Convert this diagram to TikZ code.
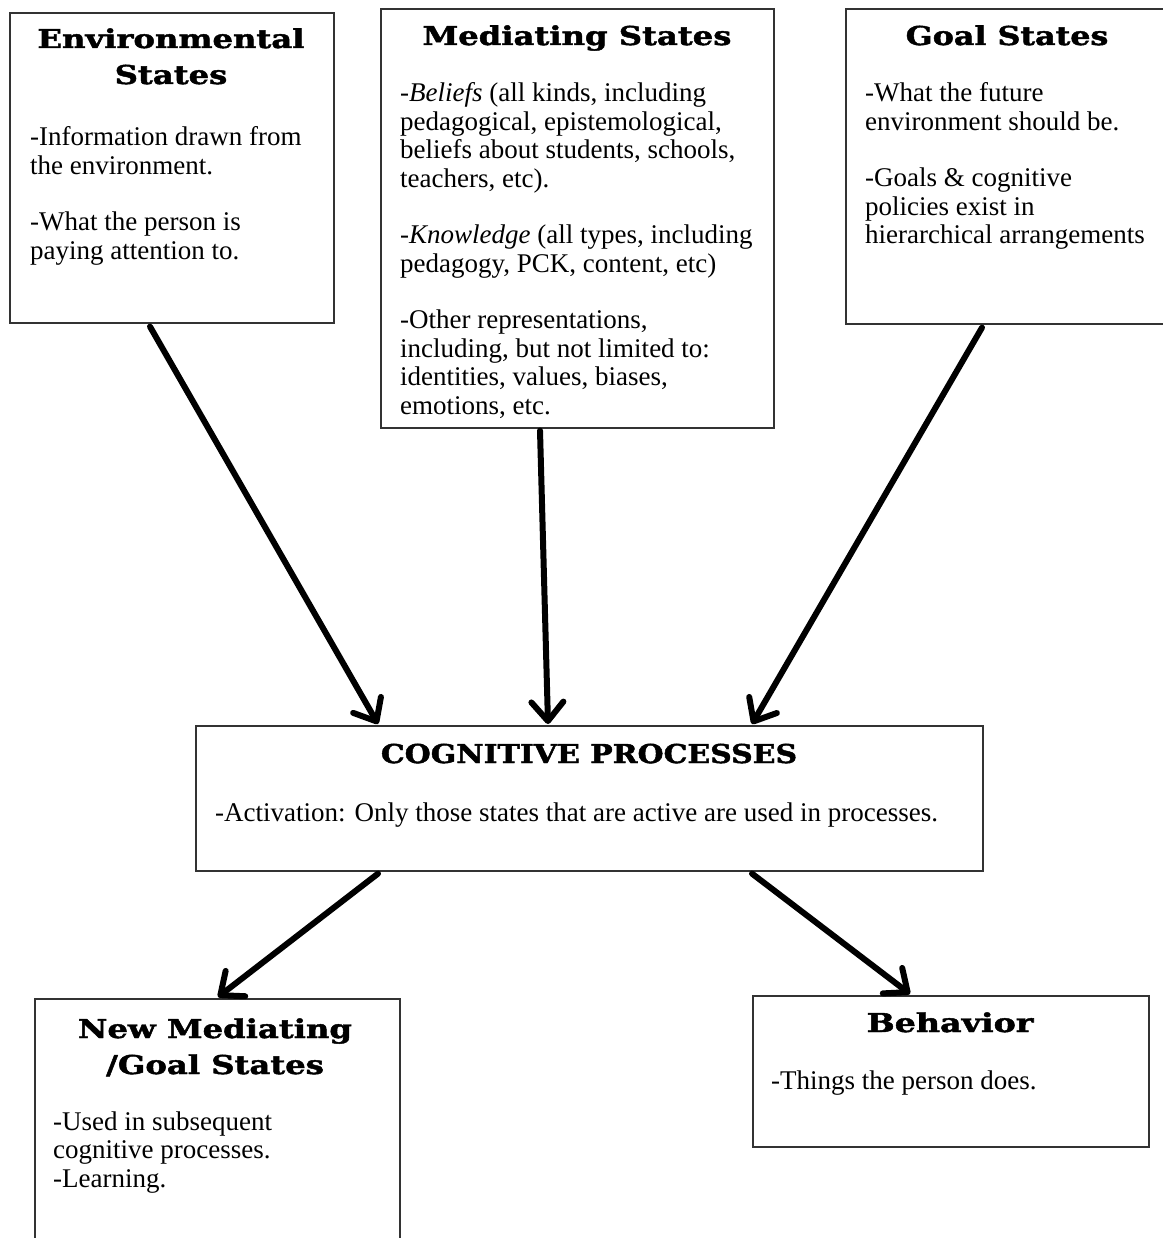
\documentclass[tikz,border=0pt]{standalone}
\usepackage{fontspec}
\setmainfont{Liberation Serif}
\newfontfamily\headfont[FakeBold=1.6]{DejaVu Serif Bold}
\usetikzlibrary{arrows.meta}
\newcommand\hd[2][1.24]{\scalebox{#1}[1]{#2}}
\begin{document}
\begin{tikzpicture}[x=1pt,y=-1pt,
  panel/.style={draw=black!80, line width=1.6pt, anchor=north west, inner sep=0pt},
  head/.style={font=\headfont\fontsize{26}{36}\selectfont, align=center, anchor=base, inner sep=0pt},
  body/.style={font=\fontsize{27}{28.5}\selectfont, align=left, anchor=base west, inner sep=0pt},
  flow/.style={line width=6pt, line cap=round, -{Straight Barb[round,length=19pt,width=32pt]}}]
\useasboundingbox (0,0) rectangle (1162,1238);

% boxes
\node[panel, minimum width=324pt, minimum height=310pt] (env) at (9,12) {};
\node[panel, minimum width=393pt, minimum height=419pt] (med) at (380,8) {};
\node[panel, minimum width=320pt, minimum height=315pt] (goal) at (845,8) {};
\node[panel, minimum width=787pt, minimum height=145pt] (cog) at (195,725) {};
\node[panel, minimum width=365pt, minimum height=260pt] (newm) at (34,998) {};
\node[panel, minimum width=396pt, minimum height=151pt] (beh) at (752,995) {};

% headings (anchored on the baseline of their last line)
\node[head] (envT) at (171,84) {\hd{Environmental}\\\hd{States}};
\node[head] (medT) at (577,45) {\hd{Mediating States}};
\node[head] (goalT) at (1007,45) {\hd[1.22]{Goal States}};
\node[head] (cogT) at (589,763) {\hd[1.15]{COGNITIVE PROCESSES}};
\node[head] (newmT) at (215,1074) {\hd{New Mediating}\\\hd{/Goal States}};
\node[head] (behT) at (950,1032) {\hd[1.28]{Behavior}};

% texts (anchored on the baseline of their last line)
\node[body, font=\fontsize{27}{29}\selectfont] (envB) at (30,260) {-Information drawn from\\the environment.\\[27pt]-What the person is\\paying attention to.};
\node[body] (medB) at (400,414) {-\textit{Beliefs} (all kinds, including\\pedagogical, epistemological,\\beliefs about students, schools,\\teachers, etc).\\[28pt]-\textit{Knowledge} (all types, including\\pedagogy, PCK, content, etc)\\[28pt]-Other representations,\\including, but not limited to:\\identities, values, biases,\\emotions, etc.};
\node[body] (goalB) at (865,244) {-What the future\\environment should be.\\[28pt]-Goals \& cognitive\\policies exist in\\hierarchical arrangements};
\node[body] (cogB) at (215,821) {-Activation: Only those states that are active are used in processes.};
\node[body] (newmB) at (53,1187) {-Used in subsequent\\cognitive processes.\\-Learning.};
\node[body] (behB) at (771,1089) {-Things the person does.};

% connectors
\draw[flow] ([xshift=141pt,yshift=-3pt]env.south west) -- ([xshift=183pt,yshift=1pt]cog.north west);
\draw[flow] ([xshift=160pt,yshift=-2pt]med.south west) -- ([xshift=353pt,yshift=1pt]cog.north west);
\draw[flow] ([xshift=137pt,yshift=-3pt]goal.south west) -- ([xshift=557pt,yshift=1pt]cog.north west);
\draw[flow] ([xshift=183pt,yshift=-2pt]cog.south west) -- ([xshift=184pt,yshift=1pt]newm.north west);
\draw[flow] ([xshift=557pt,yshift=-2pt]cog.south west) -- ([xshift=158pt,yshift=1pt]beh.north west);
\end{tikzpicture}
\end{document}
